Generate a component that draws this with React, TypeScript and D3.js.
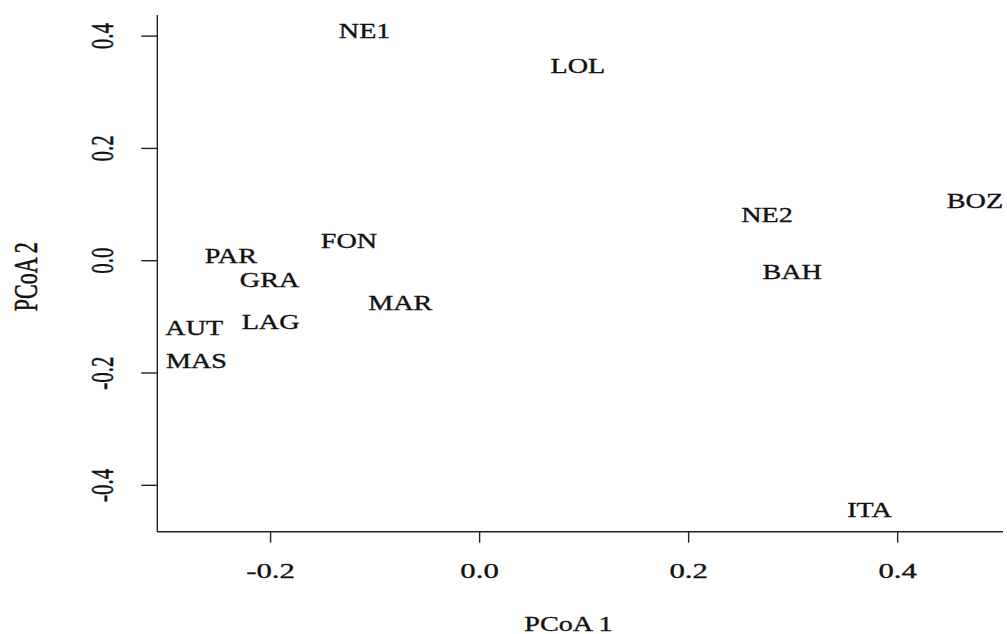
import React from 'react';
import * as d3 from 'd3';

// sites and their PCoA scores
const sites = ['NE1', 'LOL', 'FON', 'PAR', 'GRA', 'MAR', 'LAG', 'AUT', 'MAS', 'NE2', 'BOZ', 'BAH', 'ITA'];
const pcoa1 = [-0.110, 0.094, -0.125, -0.238, -0.201, -0.076, -0.200, -0.273, -0.271, 0.275, 0.474, 0.299, 0.373];
const pcoa2 = [0.409, 0.347, 0.035, 0.008, -0.033, -0.074, -0.108, -0.120, -0.178, 0.081, 0.107, -0.020, -0.443];

const xTicks = [-0.2, 0.0, 0.2, 0.4];
const yTicks = [-0.4, -0.2, 0.0, 0.2, 0.4];
const xTickLabels = ['-0.2', '0.0', '0.2', '0.4'];
const yTickLabels = ['-0.4', '-0.2', '0.0', '0.2', '0.4'];

const W = 1007, H = 634;
const font = '"Liberation Serif", "Times New Roman", serif';
const ink = '#111';

export default function App() {
    let x = d3.scaleLinear().domain([-0.3084, 0.5008]).range([157.3, 1003]);
    let y = d3.scaleLinear().domain([-0.4826, 0.4376]).range([531.7, 15]);
    const [x0, x1] = x.range();
    const [y0, y1] = y.range();

    return (
        <svg width={W} height={H} style={{position: 'absolute', left: 0, top: 0, background: '#fff'}}
             fontFamily={font} fill={ink} stroke={ink} strokeWidth={0.35}>
            {/* L shaped axes */}
            <line x1={x0} x2={x1} y1={y0} y2={y0} stroke="#222" strokeWidth={1.4} />
            <line x1={x0} x2={x0} y1={y0} y2={y1} stroke="#222" strokeWidth={1.4} />

            {xTicks.map((t, i) => (
                <g key={'xt' + i}>
                    <line x1={x(t)} x2={x(t)} y1={y0} y2={y0 + 11} stroke="#222" strokeWidth={1.4} />
                    <text transform={`translate(${x(t)},578) scale(1.4,1)`} textAnchor="middle" fontSize={22}>
                        {xTickLabels[i]}
                    </text>
                </g>
            ))}

            {yTicks.map((t, i) => (
                <g key={'yt' + i}>
                    <line x1={x0 - 16} x2={x0} y1={y(t)} y2={y(t)} stroke="#222" strokeWidth={1.4} />
                    <text transform={`translate(113.3,${y(t)}) rotate(-90) scale(1,1.52)`} textAnchor="middle" fontSize={21}>
                        {yTickLabels[i]}
                    </text>
                </g>
            ))}

            {/* axis titles */}
            <text transform="translate(568.5,630.5) scale(1.28,1)" textAnchor="middle" fontSize={22}>PCoA 1</text>
            <text transform="translate(36.7,276.7) rotate(-90) scale(1,1.55)" textAnchor="middle" fontSize={22}>PCoA 2</text>

            {/* site labels */}
            {sites.map((s, i) => (
                <text key={s} transform={`translate(${x(pcoa1[i])},${y(pcoa2[i])}) scale(1.28,1)`}
                      textAnchor="middle" dy="0.33em" fontSize={22}>
                    {s}
                </text>
            ))}
        </svg>
    );
}
